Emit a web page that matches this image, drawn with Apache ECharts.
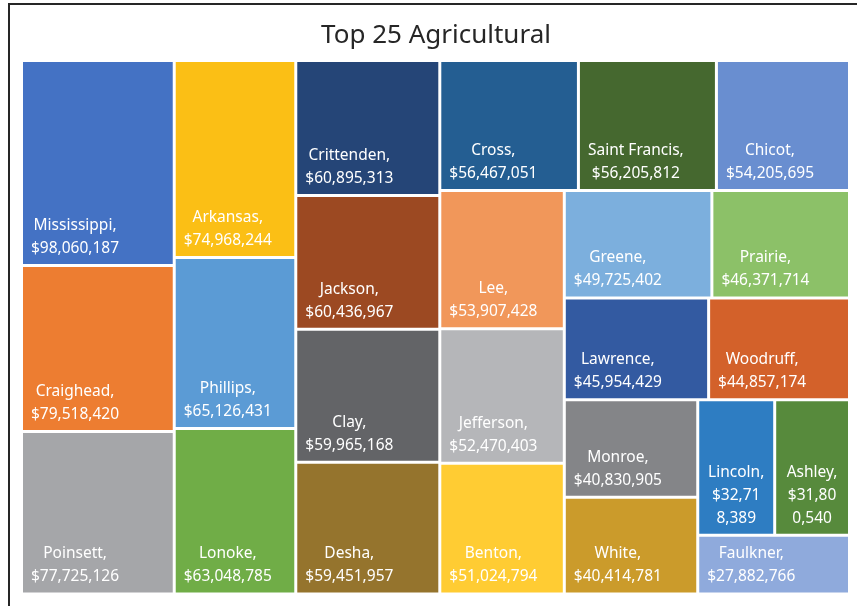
<!DOCTYPE html>
<html>
<head>
<meta charset="utf-8">
<script src="https://cdn.jsdelivr.net/npm/echarts@6.0.0/dist/echarts.min.js"></script>
<style>
html,body{margin:0;padding:0;background:#fff;}
#main{width:857px;height:606px;}
</style>
</head>
<body>
<div id="main"></div>
<script>
// ---- data ----
const titleText = 'Top 25 Agricultural';
const counties = ['Mississippi','Craighead','Poinsett','Arkansas','Phillips','Lonoke',
  'Crittenden','Jackson','Clay','Desha','Cross','Saint Francis','Chicot','Lee','Jefferson',
  'Benton','Greene','Prairie','Lawrence','Woodruff','Monroe','White','Lincoln','Ashley','Faulkner'];
const amounts = [98060187,79518420,77725126,74968244,65126431,63048785,
  60895313,60436967,59965168,59451957,56467051,56205812,54205695,53907428,52470403,
  51024794,49725402,46371714,45954429,44857174,40830905,40414781,32718389,31800540,27882766];
const cellColors = ['#4472C4','#ED7D31','#A5A6A9','#FBBF15','#5B9BD5','#70AD47',
  '#254577','#9C4922','#636467','#95742D','#245E92','#45682F','#698ED0','#F1975A','#B5B6B9',
  '#FFCC33','#7CAFDD','#8CC168','#335AA1','#D3612A','#848588','#CB9B2B','#2E7DC2','#578A3C','#8FAADC'];
// how many consecutive items share one strip of the Excel-style treemap
const stripSizes = [3,3,4,3,3,2,2,2,3];

// ---- style ----
const FONT = '"Noto Sans", sans-serif';
const FS = 15.5, LH = 23, PADX = 8, WRAPPAD = 8.5, PADB = 4, BORDER = 1.5;

function fmt(v){ return '$' + v.toLocaleString('en-US'); }

function buildTree(labelFor){
  let idx = 0;
  function level(s){
    const kids = [];
    for (let k = 0; k < stripSizes[s]; k++, idx++){
      const i = idx;
      const item = {
        name: counties[i], value: amounts[i],
        itemStyle: {color: cellColors[i], borderColor: '#fff', borderWidth: BORDER}
      };
      const lab = labelFor ? labelFor(i) : null;
      if (lab) item.label = lab;
      kids.push(item);
    }
    if (s + 1 < stripSizes.length){
      kids.push({name: '', itemStyle: {borderWidth: 0, gapWidth: 0}, label: {show: false}, children: level(s + 1)});
    }
    return kids;
  }
  return level(0);
}

function makeOption(labelFor){
  return {
    animation: false,
    backgroundColor: '#fff',
    title: {
      text: titleText, left: 436, top: 23, padding: 0, textAlign: 'center',
      textStyle: {fontFamily: FONT, fontSize: 26, fontWeight: 'normal', color: '#262626'}
    },
    graphic: [{
      type: 'rect', silent: true, z: 100,
      shape: {x: 9, y: 4, width: 900, height: 800},
      style: {fill: 'none', stroke: '#262626', lineWidth: 2}
    }],
    series: [{
      type: 'treemap',
      left: 21.5, top: 60.5, width: 828, height: 533.5,
      squareRatio: 1, sort: false, roam: false, nodeClick: false,
      breadcrumb: {show: false},
      itemStyle: {borderWidth: 0, gapWidth: 0, borderColor: '#fff'},
      upperLabel: {show: false},
      label: {
        show: true,
        formatter: p => p.name + ',\n' + fmt(p.value),
        color: '#fff', fontFamily: FONT, fontSize: FS, lineHeight: LH,
        align: 'center', verticalAlign: 'bottom', position: ['50%', '100%'],
        padding: [0, 0, PADB, 0], overflow: 'none'
      },
      data: buildTree(labelFor)
    }]
  };
}

const chart = echarts.init(document.getElementById('main'), null, {renderer: 'canvas'});
chart.setOption(makeOption(null));

// second pass: place each label block at the bottom-left like Excel, wrapping narrow cells
const ctx = document.createElement('canvas').getContext('2d');
ctx.font = FS + 'px ' + FONT;
function tw(s){ return ctx.measureText(s).width; }
function wrapLine(s, W){
  if (tw(s) <= W) return [s];
  const out = [];
  let cur = '';
  for (const ch of s){
    if (cur && tw(cur + ch) > W){ out.push(cur); cur = ch; }
    else cur += ch;
  }
  if (cur) out.push(cur);
  return out;
}
const layouts = {};
try {
  const data = chart.getModel().getSeriesByIndex(0).getData();
  data.tree.eachNode(function(n){
    if ((!n.children || !n.children.length) && n.name) layouts[n.name] = n.getLayout();
  });
} catch (e) {}
chart.setOption(makeOption(function(i){
  const l = layouts[counties[i]];
  if (!l) return null;
  const l1 = counties[i] + ',', l2 = fmt(amounts[i]);
  const bw = Math.max(tw(l1), tw(l2));
  const cw = l.width - 2 * BORDER;
  if (bw <= cw - 2 * PADX) return {position: [PADX + bw / 2, '100%']};
  const W = cw - 2 * WRAPPAD;
  const lines = wrapLine(l1, W).concat(wrapLine(l2, W));
  return {position: ['50%', '100%'], formatter: lines.join('\n')};
}), true);
</script>
</body>
</html>
